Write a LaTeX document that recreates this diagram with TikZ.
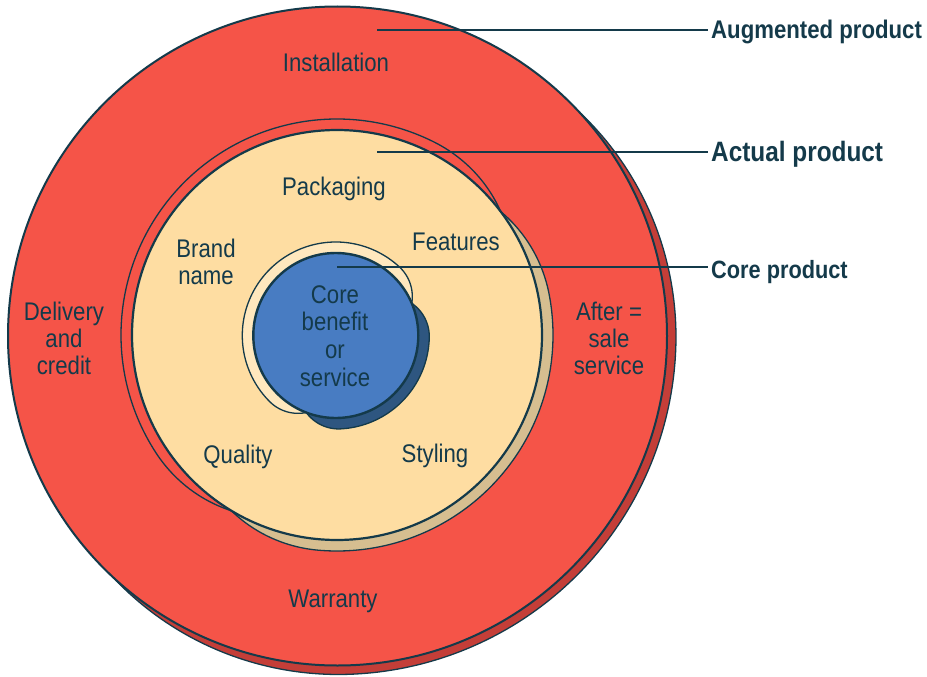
\documentclass[tikz,border=0pt]{standalone}
\usepackage{fontspec}
\setmainfont{Liberation Sans}[FakeStretch=0.87]
\definecolor{redA}{RGB}{245,84,72}
\definecolor{redD}{RGB}{196,62,56}
\definecolor{creamA}{RGB}{254,221,162}
\definecolor{tanA}{RGB}{214,190,144}
\definecolor{creamL}{RGB}{255,232,190}
\definecolor{blueA}{RGB}{72,124,194}
\definecolor{blueD}{RGB}{46,86,128}
\definecolor{ink}{RGB}{20,58,74}
\tikzset{
  lab/.style={text=ink, font=\fontsize{25.5}{27}\selectfont, inner sep=0pt, anchor=base},
  tag/.style={text=ink, font=\bfseries, inner sep=3pt, anchor=base west},
  thinline/.style={draw=ink, line width=1.3pt},
  leader/.style={draw=ink, line width=1.4pt},
}
\begin{document}
\begin{tikzpicture}[x=1pt,y=-1pt]
\fill[white] (0,0) rectangle (927,677);
\useasboundingbox (0,0) rectangle (927,677);
% ---- outer ring (augmented product) ----
\filldraw[fill=redD, thinline] plot[domain=-88:88, samples=177]
  ({337.5+(329.5+9*(1-(1-min(1,(88-abs(\x))/45))^2))*cos(\x+45)},
   {336+(329.5+9*(1-(1-min(1,(88-abs(\x))/45))^2))*sin(\x+45)}) -- cycle;
\node[circle, fill=redA, draw=ink, line width=2pt, minimum size=659pt, inner sep=0pt] (outer) at (337.5,336) {};
% ---- middle ring (actual product) ----
\fill[tanA] plot[domain=-79:79, samples=159]
  ({337+(205+11*(1-(1-min(1,(79-abs(\x))/26))^2))*cos(\x+42)},
   {335+(205+11*(1-(1-min(1,(79-abs(\x))/26))^2))*sin(\x+42)}) -- cycle;
\draw[thinline] plot[domain=-180:180, samples=361]
  ({337+(205+11*(1-(1-min(1,abs(abs(\x)-79)/26))^2))*cos(\x+42)},
   {335+(205+11*(1-(1-min(1,abs(abs(\x)-79)/26))^2))*sin(\x+42)}) -- cycle;
\node[circle, fill=creamA, draw=ink, line width=2.2pt, minimum size=410pt, inner sep=0pt] (middle) at (337,335) {};
% ---- inner ring (core product) ----
\fill[creamL] plot[domain=-180:180, samples=361]
  ({335.8+(82.5+11*(1-(1-min(1,abs(abs(\x)-67)/24))^2))*cos(\x+44)},
   {335.5+(82.5+11*(1-(1-min(1,abs(abs(\x)-67)/24))^2))*sin(\x+44)}) -- cycle;
\fill[blueD] plot[domain=-67:67, samples=135]
  ({335.8+(82.5+11*(1-(1-min(1,(67-abs(\x))/24))^2))*cos(\x+44)},
   {335.5+(82.5+11*(1-(1-min(1,(67-abs(\x))/24))^2))*sin(\x+44)}) -- cycle;
\draw[thinline] plot[domain=-180:180, samples=361]
  ({335.8+(82.5+11*(1-(1-min(1,abs(abs(\x)-67)/24))^2))*cos(\x+44)},
   {335.5+(82.5+11*(1-(1-min(1,abs(abs(\x)-67)/24))^2))*sin(\x+44)}) -- cycle;
\node[circle, fill=blueA, draw=ink, line width=2.4pt, minimum size=165pt, inner sep=0pt] (core) at (335.8,335.5) {};
% ---- texts inside ----
\node[lab] (inst) at (336,72) {Installation};
\node[lab] (pack) at (334,195) {Packaging};
\node[lab] (brand) at (206,257) {\begin{tabular}[t]{@{}c@{}}Brand\\name\end{tabular}};
\node[lab] (feat) at (456,250) {Features};
\node[lab] (cbs) at (335,303) {\fontsize{25.5}{27.7}\selectfont\begin{tabular}[t]{@{}c@{}}Core\\benefit\\or\\service\end{tabular}};
\node[lab] (deliv) at (64,320) {\begin{tabular}[t]{@{}c@{}}Delivery\\and\\credit\end{tabular}};
\node[lab] (after) at (609,320) {\begin{tabular}[t]{@{}c@{}}After =\\sale\\service\end{tabular}};
\node[lab] (qual) at (238,463) {Quality};
\node[lab] (styl) at (435,462) {Styling};
\node[lab] (warr) at (333,607) {Warranty};
% ---- right-hand tags and leaders ----
\node[tag, font=\bfseries\fontsize{25.5}{27}\selectfont] (aug) at (708,38.3) {Augmented product};
\node[tag, font=\bfseries\fontsize{28}{30}\selectfont] (act) at (708,161.7) {Actual product};
\node[tag, font=\bfseries\fontsize{25}{27}\selectfont] (corep) at (708,278.3) {Core product};
\coordinate (augS) at (377,30);
\coordinate (actS) at (377,152);
\coordinate (coreS) at (337,267);
\draw[leader] (augS) -- (augS -| aug.west);
\draw[leader] (actS) -- (actS -| act.west);
\draw[leader] (coreS) -- (coreS -| corep.west);
\end{tikzpicture}
\end{document}
